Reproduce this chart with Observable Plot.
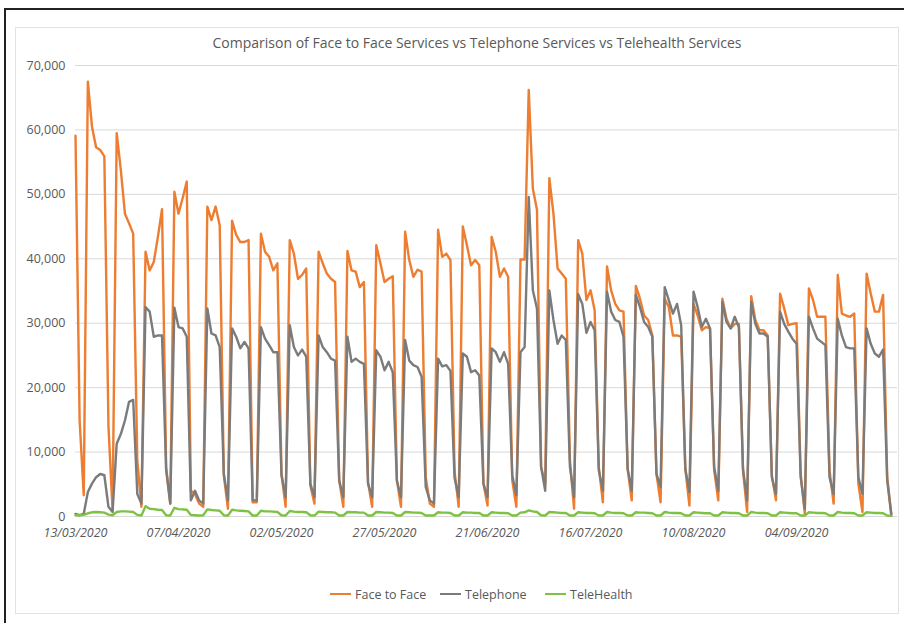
<!DOCTYPE html>
<html>
<head>
<meta charset="utf-8">
<script src="https://cdn.jsdelivr.net/npm/d3@7"></script>
<script src="https://cdn.jsdelivr.net/npm/@observablehq/plot@0.6"></script>
<style>
  html, body { margin: 0; padding: 0; background: #fff; }
  #page { position: relative; width: 904px; height: 623px; overflow: hidden; background: #fff; font-family: "Open Sans", "Noto Sans", sans-serif; }
  #frameOuter { position: absolute; left: 4px; top: 8px; width: 904px; height: 620px; border-top: 2px solid #222; border-left: 2px solid #222; box-sizing: border-box; }
  #frameInner { position: absolute; left: 15px; top: 27px; width: 884px; height: 587px; border: 1px solid #e3e3e3; box-sizing: border-box; }
  #title { position: absolute; left: 0; width: 954px; top: 33px; text-align: center; font-size: 14px; color: #595959; }
  #chart { position: absolute; left: 0; top: 55px; }
  #legend { position: absolute; top: 585px; left: 0; width: 904px; height: 18px; font-size: 12.5px; color: #595959; }
  .item { position: absolute; top: 0; display: flex; align-items: center; height: 18px; }
  .sw { display: inline-block; width: 21px; height: 2.5px; margin-right: 4px; }
</style>
</head>
<body>
<div id="page">
  <div id="frameOuter"></div>
  <div id="frameInner"></div>
  <div id="title">Comparison of Face to Face Services vs Telephone Services vs Telehealth Services</div>
  <div id="chart"></div>
  <div id="legend"></div>
</div>
<script>
// ---- data (daily, starting 13/03/2020) ----
const startDate = "2020-03-13";
const seriesNames = ["Face to Face", "Telephone", "TeleHealth"];
const seriesColors = ["#ED7D31", "#7B7B7B", "#7DC242"];

const faceToFace = [
  59100, 14900, 3300, 67500, 60500, 57300, 56900, 55900, 14000, 900,
  59500, 53800, 47000, 45500, 43900, 8700, 1500,
  41100, 38200, 39500, 43400, 47700, 7700, 2000,
  50400, 47000, 49400, 52000, 4000, 3500, 2000, 1500,
  48100, 46000, 48100, 45200, 6400, 1200,
  45900, 43700, 42600, 42600, 42900, 2200, 2200,
  43900, 41100, 40300, 38200, 39300, 6600, 1500,
  42900, 40800, 36900, 37500, 38500, 4800, 2000,
  41100, 39300, 37700, 36900, 36400, 5600, 1500,
  41200, 38200, 38000, 35600, 36400, 5300, 1500,
  42100, 39300, 36400, 36900, 37300, 5600, 1500,
  44200, 39800, 37200, 38300, 38000, 6100, 2000, 1500,
  44500, 40300, 40800, 39800, 7000, 1500,
  45000, 42100, 39000, 39800, 39000, 5100, 1700,
  43400, 41100, 37200, 38500, 37200, 5600, 1500,
  39900, 39900, 66200, 50900, 47600, 7700, 5000,
  52500, 47000, 38500, 37700, 36900, 8700, 1200,
  42900, 40800, 33600, 35100, 32000, 7700, 2200,
  38800, 35100, 33000, 32000, 31800, 7400, 2500,
  35800, 33800, 31200, 30500, 28100, 6600, 2200,
  33800, 32500, 28100, 28100, 27900, 7400, 1700,
  33000, 31200, 28900, 29400, 29200, 7200, 2500,
  33800, 30700, 29200, 29900, 29900, 7200, 700,
  34200, 30500, 28900, 28900, 28100, 6400, 2500,
  34600, 32300, 29700, 29900, 30000, 6600, 400,
  35400, 33600, 31000, 31000, 31000, 7200, 2000,
  37500, 31500, 31200, 31000, 31500, 5100, 700,
  37700, 34600, 31800, 31800, 34400, 6100, 400
];

const telephone = [
  400, 200, 400, 3800, 5100, 6100, 6600, 6400, 1500, 700,
  11300, 12800, 14900, 17800, 18100, 3500, 2000,
  32500, 31800, 27900, 28100, 28100, 7200, 2000,
  32400, 29400, 29200, 27900, 2500, 4000, 2500, 2000,
  32300, 28400, 28100, 26300, 6600, 2500,
  29200, 27900, 26100, 27100, 26100, 2500, 2500,
  29400, 27600, 26600, 25500, 25500, 6400, 3000,
  29700, 26300, 25000, 25900, 24800, 5100, 3000,
  28100, 26300, 25500, 24500, 24200, 5600, 3000,
  27900, 24000, 24500, 24000, 23700, 5100, 3000,
  25800, 24800, 22700, 24000, 22400, 5600, 3000,
  27400, 24200, 23500, 23200, 21700, 4600, 2500, 2000,
  24500, 23300, 23500, 22600, 6000, 3000,
  25300, 24800, 22400, 22700, 21900, 5100, 3000,
  26100, 25500, 24000, 25500, 23700, 6400, 3300,
  25500, 26300, 49600, 35100, 32300, 7700, 4000,
  35100, 30500, 26800, 28100, 27400, 7700, 3000,
  34500, 33000, 28500, 30200, 28900, 7200, 4000,
  34900, 31800, 30500, 30200, 27900, 7400, 4000,
  34400, 32500, 30200, 29400, 27900, 6600, 4600,
  35600, 33600, 31500, 33000, 29700, 7400, 3800,
  34900, 32500, 29400, 30700, 29200, 7700, 4000,
  33300, 30200, 29200, 31000, 29400, 7400, 2500,
  33300, 29900, 28400, 28400, 27900, 6100, 3500,
  31800, 29900, 28700, 27600, 26800, 6100, 1200,
  31000, 29200, 27600, 27100, 26600, 6100, 3500,
  30700, 28100, 26300, 26100, 26100, 6100, 3500,
  29200, 26800, 25300, 24800, 25900, 5600, 200
];

const teleHealth = [
  200, 200, 250, 500, 650, 700, 650, 600, 300, 200,
  700, 800, 800, 750, 700, 250, 150,
  1600, 1200, 1150, 1050, 1000, 200, 150,
  1350, 1150, 1100, 1050, 250, 200, 150, 200,
  1100, 1000, 950, 900, 200, 150,
  1050, 950, 900, 850, 800, 150, 150,
  900, 800, 800, 750, 700, 200, 150,
  850, 750, 700, 700, 650, 200, 150,
  750, 700, 650, 650, 600, 150, 150,
  700, 650, 650, 600, 600, 150, 150,
  700, 650, 600, 600, 550, 150, 150,
  700, 650, 600, 600, 550, 150, 150, 150,
  650, 600, 600, 550, 150, 150,
  650, 600, 600, 550, 550, 150, 150,
  650, 600, 550, 550, 500, 150, 150,
  600, 650, 950, 800, 700, 200, 150,
  700, 650, 600, 550, 550, 150, 150,
  650, 600, 550, 550, 500, 150, 150,
  700, 600, 550, 550, 500, 150, 150,
  650, 600, 600, 550, 500, 150, 150,
  700, 600, 550, 550, 500, 150, 150,
  650, 600, 550, 500, 500, 150, 150,
  650, 600, 550, 550, 500, 150, 150,
  700, 600, 550, 550, 500, 150, 150,
  650, 600, 550, 500, 500, 150, 150,
  650, 600, 550, 550, 500, 150, 150,
  700, 600, 550, 550, 500, 150, 150,
  650, 600, 550, 550, 500, 150, 100
];

const xTickLabels = ["13/03/2020", "07/04/2020", "02/05/2020", "27/05/2020", "21/06/2020", "16/07/2020", "10/08/2020", "04/09/2020"];
const yTicks = [0, 10000, 20000, 30000, 40000, 50000, 60000, 70000];

// ---- build table ----
const parseDMY = d3.utcParse("%d/%m/%Y");
const start = d3.utcParse("%Y-%m-%d")(startDate);
const rows = [];
[faceToFace, telephone, teleHealth].forEach((arr, s) => {
  arr.forEach((v, i) => rows.push({ date: d3.utcDay.offset(start, i), value: v, series: seriesNames[s] }));
});
const xTickDates = xTickLabels.map(parseDMY);
const domainEnd = new Date(d3.utcDay.offset(start, 199).getTime() + 12 * 3600 * 1000);

const chart = Plot.plot({
  width: 904,
  height: 500,
  marginTop: 10,
  marginBottom: 39,
  marginLeft: 75,
  marginRight: 7,
  style: { fontFamily: "'Open Sans', 'Noto Sans', sans-serif", color: "#595959", background: "transparent", overflow: "visible" },
  x: { type: "utc", domain: [start, domainEnd], label: null },
  y: { domain: [0, 70000], label: null },
  marks: [
    Plot.gridY(yTicks, { stroke: "#d9d9d9", strokeOpacity: 1, strokeWidth: 1 }),
    Plot.axisY(yTicks, { tickSize: 0, tickPadding: 10, tickFormat: d3.format(","), fontSize: 12.5, fill: "#595959", label: null }),
    Plot.axisX(xTickDates, { tickSize: 0, tickPadding: 12, tickFormat: (d, i) => xTickLabels[i], fontSize: 12.5, fill: "#595959", fontStyle: "italic", label: null }),
    ...seriesNames.map((name, s) =>
      Plot.line(rows.filter(r => r.series === name), {
        x: "date", y: "value", stroke: seriesColors[s], strokeWidth: 2.4, strokeLinejoin: "round", strokeLinecap: "round"
      })
    )
  ]
});
document.getElementById("chart").appendChild(chart);

// ---- legend ----
const legendPos = [330, 440, 545];
const legend = document.getElementById("legend");
seriesNames.forEach((name, s) => {
  const it = document.createElement("div");
  it.className = "item";
  it.style.left = legendPos[s] + "px";
  it.innerHTML = `<span class="sw" style="background:${seriesColors[s]}"></span><span>${name}</span>`;
  legend.appendChild(it);
});
</script>
</body>
</html>
